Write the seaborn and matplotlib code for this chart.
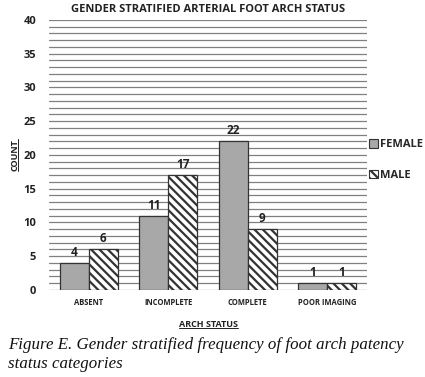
import pandas as pd
import numpy as np
import matplotlib
matplotlib.use('Agg')
import matplotlib.pyplot as plt
import seaborn as sns
from matplotlib.patches import Patch
from matplotlib.lines import Line2D

# data
status = ['ABSENT', 'INCOMPLETE', 'COMPLETE', 'POOR IMAGING']
female = [4, 11, 22, 1]
male = [6, 17, 9, 1]

df = pd.DataFrame({
    'status': status * 2,
    'gender': ['FEMALE'] * 4 + ['MALE'] * 4,
    'count': female + male,
})

sns.set_style('white')
plt.rcParams['font.family'] = ['Open Sans', 'DejaVu Sans']
plt.rcParams['hatch.linewidth'] = 1.6

fig = plt.figure(figsize=(4.25, 3.77), dpi=100)
ax = fig.add_axes([0.115, 0.231, 0.749, 0.716])

sns.barplot(data=df, x='status', y='count', hue='gender', order=status,
            hue_order=['FEMALE', 'MALE'], palette=['#a8a8a8', 'white'],
            width=0.73, edgecolor='#333333', linewidth=0.9, ax=ax,
            legend=False, zorder=3)

# male bars get the diagonal hatch
for bar in ax.containers[1]:
    bar.set_hatch('\\\\\\\\')

# value labels
for cont, vals in zip(ax.containers, [female, male]):
    ax.bar_label(cont, labels=[str(v) for v in vals], padding=3,
                 fontsize=8.5, fontweight='bold', color='#222222')

ax.set_ylim(0, 40)
ax.set_yticks(np.arange(0, 41, 5))
for y in range(0, 41):
    ax.axhline(y, color='#808080', lw=0.9, zorder=1)
for s in ax.spines.values():
    s.set_visible(False)
ax.tick_params(axis='both', length=0)
ax.tick_params(axis='y', labelsize=8, pad=9)
ax.tick_params(axis='x', labelsize=5.5, pad=6)
for lab in ax.get_xticklabels() + ax.get_yticklabels():
    lab.set_fontweight('bold')
    lab.set_color('#222222')

xl = ax.set_xlabel('ARCH STATUS', fontsize=6.5, labelpad=9,
                   color='#222222', fontweight='bold')
yl = ax.set_ylabel('COUNT', fontsize=6.5, labelpad=3,
                   color='#222222', fontweight='bold')
ax.set_title('GENDER STRATIFIED ARTERIAL FOOT ARCH STATUS', fontsize=8,
             fontweight='bold', color='#222222', pad=6, x=0.5)

handles = [Patch(facecolor='#a8a8a8', edgecolor='#333333', lw=0.8),
           Patch(facecolor='white', edgecolor='#333333', lw=0.8, hatch='\\\\\\\\')]
fig.legend(handles, ['FEMALE', 'MALE'], loc='upper left',
           bbox_to_anchor=(0.863, 0.637), frameon=False,
           prop={'weight': 'bold', 'size': 8}, handlelength=0.8,
           handleheight=0.8, handletextpad=0.2, labelspacing=1.75,
           borderaxespad=0, borderpad=0.2)

fig.text(0.018, 0.012, 'Figure E. Gender stratified frequency of foot arch patency\nstatus categories',
         family='Liberation Serif', style='italic', fontsize=12.2,
         color='#111111', linespacing=1.25, va='bottom')

# underline the axis labels
fig.canvas.draw()
r = fig.canvas.get_renderer()
inv = fig.transFigure.inverted()
bb = xl.get_window_extent(r).transformed(inv)
fig.add_artist(Line2D([bb.x0, bb.x1], [bb.y0 + 0.003] * 2, color='#222222', lw=0.7))
bb = yl.get_window_extent(r).transformed(inv)
fig.add_artist(Line2D([bb.x1 - 0.003] * 2, [bb.y0, bb.y1], color='#222222', lw=0.7))

fig.savefig('out.png', dpi=100, facecolor='white')
